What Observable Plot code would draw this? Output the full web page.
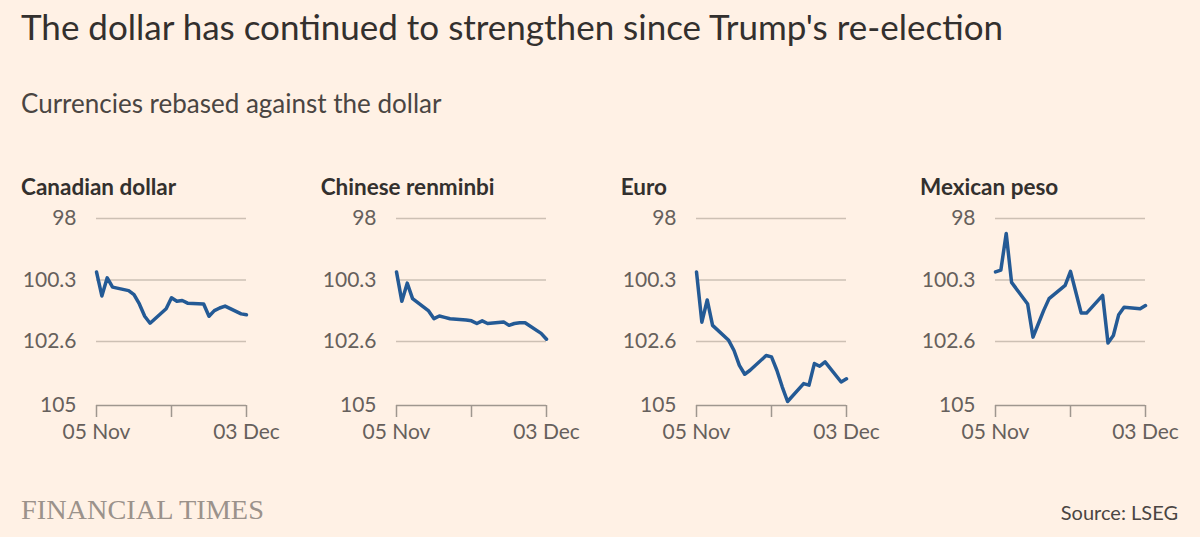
<!DOCTYPE html>
<html>
<head>
<meta charset="utf-8">
<script src="https://cdn.jsdelivr.net/npm/d3@7"></script>
<script src="https://cdn.jsdelivr.net/npm/@observablehq/plot@0.6"></script>
<style>
  html, body { margin: 0; padding: 0; background: #fff1e5; }
  body { width: 1200px; height: 537px; position: relative; overflow: hidden; font-family: Lato, "Open Sans", sans-serif; color: #33302e; }
  .title { position: absolute; left: 21px; top: 3px; font-size: 35px; line-height: 46px; white-space: nowrap; color: #33302e; }
  .subtitle { position: absolute; left: 21px; top: 86px; font-size: 26px; line-height: 34px; white-space: nowrap; color: #4a4542; }
  .panel { position: absolute; top: 172px; width: 280px; }
  .ptitle { position: absolute; left: 0; top: 0; font-size: 22.5px; font-weight: 700; line-height: 29px; white-space: nowrap; color: #33302e; }
  .chart { position: absolute; left: 0; top: 28px; }
  .ft { position: absolute; left: 21px; top: 492px; font-family: "Liberation Serif", "DejaVu Serif", serif; font-size: 28.3px; line-height: 36px; color: #9b928b; }
  .source { position: absolute; right: 22px; top: 498px; font-size: 20px; line-height: 28px; color: #4a4542; }
</style>
</head>
<body>
<div class="title">The dollar has continued to strengthen since Trump's re-election</div>
<div class="subtitle">Currencies rebased against the dollar</div>
<div id="panels"></div>
<div class="ft">FINANCIAL TIMES</div>
<div class="source">Source: LSEG</div>
<script>
// Business days, 5 Nov – 3 Dec 2024
const dates = ["2024-11-05","2024-11-06","2024-11-07","2024-11-08",
  "2024-11-11","2024-11-12","2024-11-13","2024-11-14","2024-11-15",
  "2024-11-18","2024-11-19","2024-11-20","2024-11-21","2024-11-22",
  "2024-11-25","2024-11-26","2024-11-27","2024-11-28","2024-11-29",
  "2024-12-02","2024-12-03"];

const currencies = ["Canadian dollar", "Chinese renminbi", "Euro", "Mexican peso"];

const cad = [100.0, 100.9, 100.22, 100.57, 100.7, 100.85, 101.2, 101.66, 101.92,
  101.38, 100.97, 101.1, 101.07, 101.17, 101.2, 101.66, 101.45, 101.35, 101.28, 101.57, 101.6];
const cny = [100.0, 101.1, 100.42, 101.0, 101.46, 101.75, 101.65, 101.7, 101.75,
  101.8, 101.83, 101.93, 101.83, 101.93, 101.87, 102.0, 101.93, 101.9, 101.9, 102.3, 102.52];
const eur = [100.0, 101.88, 101.05, 102.0, 102.56, 102.94, 103.5, 103.83, 103.68,
  103.13, 103.18, 103.68, 104.3, 104.85, 104.18, 104.24, 103.43, 103.53, 103.37, 104.12, 104.0];
const mxn = [100.0, 99.93, 98.56, 100.39, 101.2, 102.44, 101.94, 101.44, 101.0,
  100.5, 99.98, 100.76, 101.54, 101.54, 100.88, 102.66, 102.38, 101.6, 101.32, 101.38, 101.26];

const yTicks = [98, 100.3, 102.6, 105];
const yTickLabels = ["98", "100.3", "102.6", "105"];
const xTicks = ["2024-11-05", "2024-11-19", "2024-12-03"];
const xTickLabels = ["05 Nov", "", "03 Dec"];

const seriesValues = [cad, cny, eur, mxn];
const parse = d3.utcParse("%Y-%m-%d");
const xDomain = [parse(dates[0]), parse(dates[dates.length - 1])];
const xTickDates = xTicks.map(parse);

const container = document.getElementById("panels");
const panelLeft = [21, 320.7, 620.7, 920];

currencies.forEach((name, i) => {
  const data = dates.map((d, j) => ({date: parse(d), value: seriesValues[i][j]}));
  const panel = document.createElement("div");
  panel.className = "panel";
  panel.style.left = panelLeft[i] + "px";
  const t = document.createElement("div");
  t.className = "ptitle";
  t.textContent = name;
  panel.appendChild(t);

  const chart = Plot.plot({
    width: 280,
    height: 250,
    marginLeft: 75,
    marginRight: 55,
    marginTop: 18,
    marginBottom: 45,
    style: {background: "transparent", fontFamily: "Lato, 'Open Sans', sans-serif", fontSize: "21px", color: "#66605c", overflow: "visible"},
    x: {type: "utc", domain: xDomain},
    y: {domain: [105, 98]},
    marks: [
      Plot.ruleY(yTicks.slice(0, 3), {stroke: "#cdc0b4", strokeWidth: 1.5}),
      Plot.ruleY([105], {stroke: "#9f978f", strokeWidth: 1.5}),
      Plot.axisX({ticks: xTickDates, tickSize: 12, tickPadding: 7, stroke: "#9f978f", strokeWidth: 1.5, strokeOpacity: 1,
        fill: "#66605c", tickFormat: (d) => xTickLabels[xTickDates.findIndex(t => +t === +d)], label: null}),
      Plot.axisY({ticks: yTicks, tickSize: 0, tickPadding: 20, fill: "#66605c",
        tickFormat: (d) => yTickLabels[yTicks.indexOf(d)], label: null}),
      Plot.lineY(data, {x: "date", y: "value", stroke: "#245a95", strokeWidth: 3.5, strokeLinejoin: "round", strokeLinecap: "round"})
    ]
  });
  const wrap = document.createElement("div");
  wrap.className = "chart";
  wrap.appendChild(chart);
  panel.appendChild(wrap);
  container.appendChild(panel);
});
</script>
</body>
</html>
